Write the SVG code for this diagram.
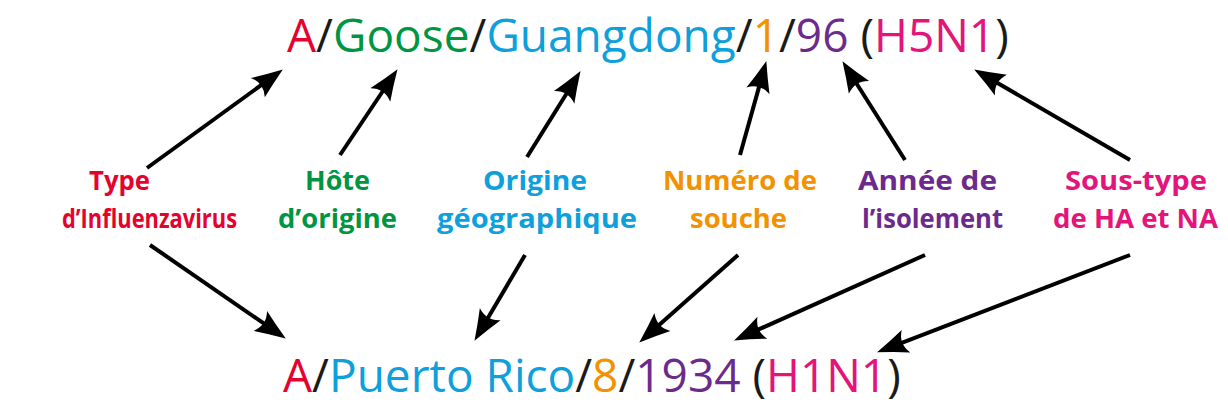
<svg xmlns="http://www.w3.org/2000/svg" width="1228" height="410" viewBox="0 0 1228 410">
<defs>
<style>
.big{font-family:"Open Sans","Noto Sans",sans-serif;font-size:46px;}
.lab{font-family:"Open Sans","Noto Sans",sans-serif;font-size:27px;font-weight:700;text-anchor:start;}
.red{fill:#e4032e}.green{fill:#009540}.blue{fill:#0ea0dc}.orange{fill:#f39200}.purple{fill:#6c2a8c}.pink{fill:#e5147a}.black{fill:#1a1a1a}
.arr{stroke:#000;stroke-width:4;fill:none;marker-end:url(#ah)}
</style>
<marker id="ah" markerUnits="userSpaceOnUse" markerWidth="34" markerHeight="28" viewBox="0 -14 34 28" refX="15" refY="0" orient="auto">
<path d="M31,0 Q14,-6 0,-12 Q8,0 0,12 Q14,6 31,0 Z" fill="#000"/>
</marker>
</defs>
<g id="connectors">
<line class="arr" x1="147" y1="168" x2="269.9" y2="78.8"/>
<line class="arr" x1="340" y1="155" x2="388.6" y2="82.5"/>
<line class="arr" x1="527" y1="157" x2="572.1" y2="84.7"/>
<line class="arr" x1="740" y1="155" x2="762" y2="76.4"/>
<line class="arr" x1="905" y1="160" x2="851" y2="74.7"/>
<line class="arr" x1="1130" y1="160" x2="988" y2="77.5"/>
<line class="arr" x1="150" y1="245" x2="272.6" y2="329.5"/>
<line class="arr" x1="525" y1="255" x2="482.6" y2="327"/>
<line class="arr" x1="738" y1="255" x2="651.2" y2="332"/>
<line class="arr" x1="925" y1="255" x2="748.7" y2="333.9"/>
<line class="arr" x1="1130" y1="255" x2="892" y2="346.6"/>
</g>
<g id="top-strain">
<text class="big" x="287" y="52"><tspan class="red">A</tspan><tspan class="black">/</tspan><tspan class="green">Goose</tspan><tspan class="black">/</tspan><tspan class="blue">Guangdong</tspan><tspan class="black">/</tspan><tspan class="orange">1</tspan><tspan class="black">/</tspan><tspan class="purple">96</tspan><tspan class="black"> (</tspan><tspan class="pink">H5N1</tspan><tspan class="black">)</tspan></text>
</g>
<g id="bottom-strain">
<text class="big" x="283" y="392"><tspan class="red">A</tspan><tspan class="black">/</tspan><tspan class="blue">Puerto Rico</tspan><tspan class="black">/</tspan><tspan class="orange">8</tspan><tspan class="black">/</tspan><tspan class="purple">1934</tspan><tspan class="black"> (</tspan><tspan class="pink">H1N1</tspan><tspan class="black">)</tspan></text>
</g>
<g id="label-type">
<text class="lab red" x="89" y="190" textLength="61" lengthAdjust="spacingAndGlyphs">Type</text>
<text class="lab red" x="62" y="228" textLength="175" lengthAdjust="spacingAndGlyphs">d’Influenzavirus</text>
</g>
<g id="label-hote">
<text class="lab green" x="305" y="190" textLength="65" lengthAdjust="spacingAndGlyphs">Hôte</text>
<text class="lab green" x="278" y="228" textLength="119" lengthAdjust="spacingAndGlyphs">d’origine</text>
</g>
<g id="label-origine">
<text class="lab blue" x="483" y="190" textLength="104" lengthAdjust="spacingAndGlyphs">Origine</text>
<text class="lab blue" x="437" y="228" textLength="200" lengthAdjust="spacingAndGlyphs">géographique</text>
</g>
<g id="label-numero">
<text class="lab orange" x="663" y="190" textLength="154" lengthAdjust="spacingAndGlyphs">Numéro de</text>
<text class="lab orange" x="690" y="228" textLength="97" lengthAdjust="spacingAndGlyphs">souche</text>
</g>
<g id="label-annee">
<text class="lab purple" x="858" y="190" textLength="139" lengthAdjust="spacingAndGlyphs">Année de</text>
<text class="lab purple" x="862" y="228" textLength="141" lengthAdjust="spacingAndGlyphs">l’isolement</text>
</g>
<g id="label-soustype">
<text class="lab pink" x="1065" y="190" textLength="142" lengthAdjust="spacingAndGlyphs">Sous-type</text>
<text class="lab pink" x="1053" y="228" textLength="165" lengthAdjust="spacingAndGlyphs">de HA et NA</text>
</g>
</svg>
